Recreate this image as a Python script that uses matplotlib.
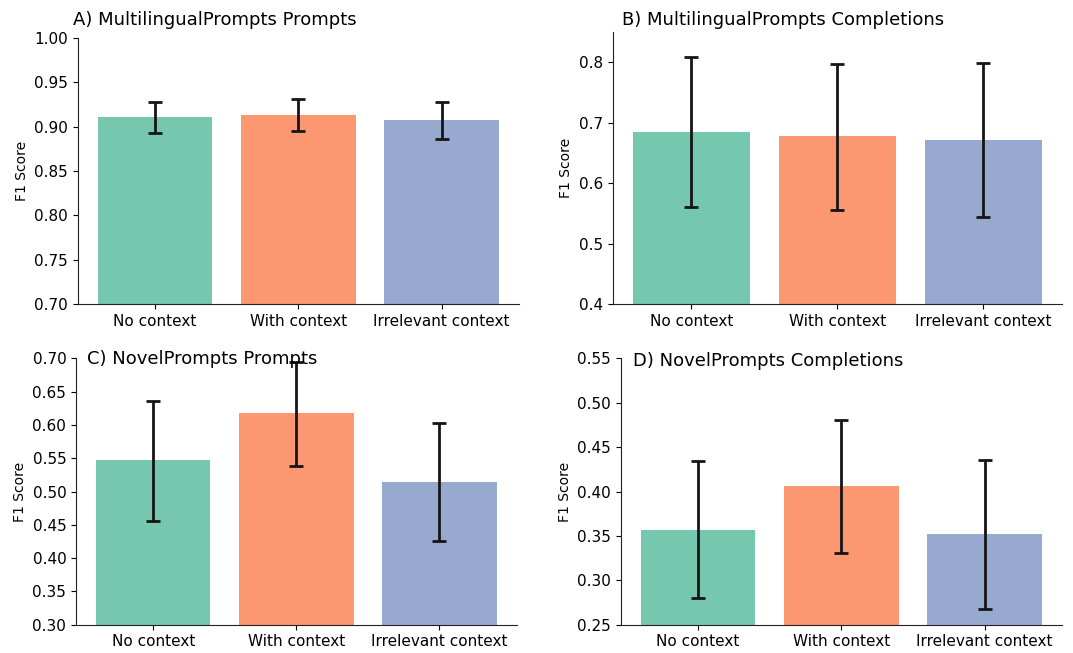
import matplotlib
matplotlib.use("Agg")
import matplotlib.pyplot as plt
import numpy as np

categories = ["No context", "With context", "Irrelevant context"]

titles = ["A) MultilingualPrompts Prompts", "B) MultilingualPrompts Completions",
          "C) NovelPrompts Prompts", "D) NovelPrompts Completions"]

a_vals = [0.911, 0.913, 0.907]
a_lo = [0.893, 0.895, 0.886]
a_hi = [0.928, 0.931, 0.928]

b_vals = [0.685, 0.677, 0.672]
b_lo = [0.560, 0.556, 0.544]
b_hi = [0.808, 0.797, 0.798]

c_vals = [0.547, 0.618, 0.514]
c_lo = [0.456, 0.539, 0.426]
c_hi = [0.636, 0.695, 0.603]

d_vals = [0.357, 0.406, 0.352]
d_lo = [0.280, 0.331, 0.268]
d_hi = [0.434, 0.481, 0.436]

ylims = [(0.70, 1.00), (0.4, 0.85), (0.30, 0.70), (0.25, 0.55)]
yticks = [np.arange(0.70, 1.001, 0.05), np.arange(0.4, 0.801, 0.1),
          np.arange(0.30, 0.701, 0.05), np.arange(0.25, 0.551, 0.05)]
yfmt = ["{:.2f}", "{:.1f}", "{:.2f}", "{:.2f}"]

colors = ["#66c2a5", "#fc8d62", "#8da0cb"]

W, H = 1073, 653
fig = plt.figure(figsize=(W / 100, H / 100), dpi=100)

def px(l, r, t, b):
    return [l / W, 1 - b / H, (r - l) / W, (b - t) / H]

positions = [px(77.7, 519, 37.7, 304.3), px(612.7, 1062, 31.7, 304.3),
             px(76, 516.7, 358.3, 624.7), px(620.7, 1062, 358.3, 624.7)]
title_pos = [(73, 25), (622, 25), (87.3, 364.3), (633.3, 366)]

data = [(a_vals, a_lo, a_hi), (b_vals, b_lo, b_hi), (c_vals, c_lo, c_hi), (d_vals, d_lo, d_hi)]

for i, (vals, lo, hi) in enumerate(data):
    ax = fig.add_axes(positions[i])
    x = np.arange(len(categories))
    vals = np.array(vals); lo = np.array(lo); hi = np.array(hi)
    ax.bar(x, vals, width=0.8, color=colors, alpha=0.9, zorder=1)
    ax.errorbar(x, vals, yerr=[vals - lo, hi - vals], fmt="none", ecolor="#151515",
                elinewidth=2.0, capsize=4.7, capthick=2.0, zorder=3)
    ax.set_xlim(-0.54, 2.54)
    ax.set_ylim(*ylims[i])
    ax.set_yticks(yticks[i])
    ax.set_yticklabels([yfmt[i].format(v) for v in yticks[i]])
    ax.set_xticks(x)
    ax.set_xticklabels(categories)
    ax.tick_params(labelsize=11)
    ax.set_ylabel("F1 Score", fontsize=10)
    for s in ["top", "right"]:
        ax.spines[s].set_visible(False)
    for s in ["left", "bottom"]:
        ax.spines[s].set_color("#222222")
    tx, ty = title_pos[i]
    fig.text(tx / W, 1 - ty / H, titles[i], fontsize=13, ha="left", va="baseline")

fig.savefig("out.png", dpi=100)
